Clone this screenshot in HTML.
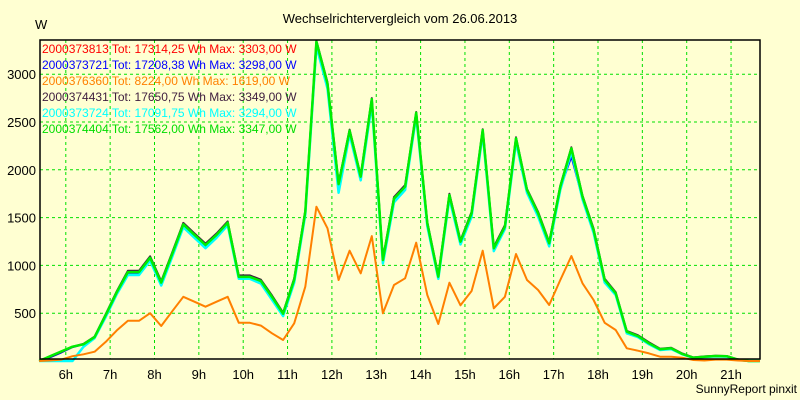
<!DOCTYPE html>
<html><head><meta charset="utf-8"><style>
body{margin:0;background:#ffffd2;}
svg{display:block;font-family:"Liberation Sans",sans-serif;}
</style></head><body>
<svg id="chart" width="800" height="400" viewBox="0 0 800 400" xmlns="http://www.w3.org/2000/svg">
<rect x="0" y="0" width="800" height="400" fill="#ffffd2"/>
<text x="400" y="23" text-anchor="middle" font-size="13" fill="#000">Wechselrichtervergleich vom 26.06.2013</text>
<text x="35" y="29" font-size="13" fill="#000">W</text>
<text x="797" y="393" text-anchor="end" font-size="12" fill="#000">SunnyReport pinxit</text>
<g id="grid"></g>
<g id="series"></g>
<g id="legend"></g>
<g id="axes"></g>
</svg>
<script>
const xTickLabels = ["6h","7h","8h","9h","10h","11h","12h","13h","14h","15h","16h","17h","18h","19h","20h","21h"];
const xTickHours = [6,7,8,9,10,11,12,13,14,15,16,17,18,19,20,21];
const yTicks = [500,1000,1500,2000,2500,3000];
const startHour = 5.4;
const stepHours = 0.25;
const seriesNames = ["2000373813","2000373721","2000376360","2000374431","2000373724","2000374404"];
const seriesTotals = ["17314,25","17208,38","8224,00","17650,75","17091,75","17562,00"];
const seriesMax = ["3303,00","3298,00","1619,00","3349,00","3294,00","3347,00"];
const redValues = [0,50,100,150,175,250,475,715,925,925,1075,815,1115,1425,1315,1210,1315,1440,875,875,832,665,490,845,1555,3300,2890,1840,2400,1920,2730,1050,1690,1815,2590,1435,878,1730,1243,1540,2410,1175,1400,2320,1780,1540,1225,1815,2215,1712,1365,843,705,303,258,183,120,131,72,34,44,51,49,14,0,0];
const blueValues = [0,40,90,145,175,248,472,712,922,922,1072,812,1112,1422,1312,1206,1312,1438,872,872,830,662,488,842,1552,3295,2885,1835,2395,1915,2725,1045,1660,1790,2590,1432,875,1725,1240,1535,2405,1170,1395,2315,1775,1535,1220,1810,2140,1705,1360,840,700,290,250,180,118,130,70,33,43,50,48,13,0,0];
const orangeValues = [0,5,15,50,70,97,200,320,420,420,500,366,520,672,620,568,620,672,400,400,370,290,220,394,777,1614,1388,847,1154,917,1307,499,795,865,1237,690,387,819,583,732,1154,551,672,1119,847,743,586,847,1098,813,638,400,324,133,108,80,45,45,35,10,5,15,15,5,0,0];
const blackValues = [0,45,95,150,180,255,490,730,945,945,1095,835,1135,1445,1335,1228,1335,1460,895,895,850,685,505,865,1575,3349,2915,1865,2420,1940,2750,1070,1715,1840,2605,1455,895,1750,1262,1560,2425,1195,1420,2340,1800,1560,1245,1835,2235,1730,1385,860,720,315,270,195,128,138,78,38,48,55,52,18,0,0];
const cyanValues = [0,0,0,0,150,240,460,700,900,900,1050,790,1090,1400,1290,1180,1290,1420,860,860,810,640,470,820,1530,3294,2850,1760,2370,1890,2690,1020,1660,1790,2560,1410,860,1700,1220,1510,2380,1150,1380,2290,1760,1510,1200,1790,2190,1690,1340,820,690,290,250,175,115,125,70,32,42,48,46,12,0,0];
const greenValues = [0,50,100,150,175,250,480,720,930,930,1080,820,1120,1430,1320,1213,1320,1447,880,880,837,670,495,850,1562,3340,2900,1850,2409,1928,2740,1056,1700,1823,2597,1440,882,1736,1248,1545,2416,1179,1405,2330,1789,1545,1231,1823,2225,1719,1370,847,708,306,260,185,122,133,73,35,45,52,50,15,0,0];

const NS="http://www.w3.org/2000/svg";
const L=40,R=760,T=40,B=359;
function xOf(h){return 65.8+(h-6)*44.35;}
function yOf(v){return 361-v*0.0956;}
function mk(tag,attrs,parent){const e=document.createElementNS(NS,tag);for(const k in attrs)e.setAttribute(k,attrs[k]);parent.appendChild(e);return e;}
const grid=document.getElementById('grid'),axes=document.getElementById('axes'),ser=document.getElementById('series'),leg=document.getElementById('legend');
mk('rect',{x:L,y:T,width:R-L,height:B-T,fill:'#ffffd2'},grid);
xTickHours.forEach((h,i)=>{
  const x=xOf(h);
  const g=mk('line',{x1:x,y1:T,x2:x,y2:B,stroke:'#00e000','stroke-dasharray':'3,3','stroke-width':1},grid);
  
  
  const t=mk('text',{x:x,y:379,'text-anchor':'middle','font-size':13,fill:'#000'},axes);
  t.textContent=xTickLabels[i];
  
  
});
yTicks.forEach(v=>{
  const y=yOf(v);
  const g=mk('line',{x1:L,y1:y,x2:R,y2:y,stroke:'#00e000','stroke-dasharray':'3,3','stroke-width':1},grid);
  
  
  const t=mk('text',{x:36,y:y+5,'text-anchor':'end','font-size':13,fill:'#000'},axes);
  t.textContent=String(v);
  
  
});
const ax=mk('path',{d:`M${L} ${T} L${R} ${T} L${R} ${B} L${L} ${B} Z`,fill:'none',stroke:'#000','stroke-width':1.5},axes);



const seriesData=[redValues,blueValues,orangeValues,blackValues,cyanValues,greenValues];
const colors=['#ff0000','#0000ff','#ff8000','#402040','#00ffff','#00ee00'];
const legendColors=['#ff0000','#0000ff','#ff8000','#402040','#00ffff','#00dd00'];
const widths=[2,2,2,2,2.5,2.5];
const order=[0,1,3,4,5,2];
order.forEach(si=>{
  const vals=seriesData[si];
  const pts=vals.map((v,i)=>xOf(startHour+i*stepHours).toFixed(1)+','+yOf(v).toFixed(1)).join(' ');
  const p=mk('polyline',{points:pts,fill:'none',stroke:colors[si],'stroke-width':widths[si],'stroke-linejoin':'round'},ser);
  
  
});
seriesNames.forEach((n,i)=>{
  const t=mk('text',{x:42,y:53+i*16,'font-size':12,fill:legendColors[i]},leg);
  t.textContent=`${n} Tot: ${seriesTotals[i]} Wh Max: ${seriesMax[i]} W`;
  
  
});
</script>
</body></html>
